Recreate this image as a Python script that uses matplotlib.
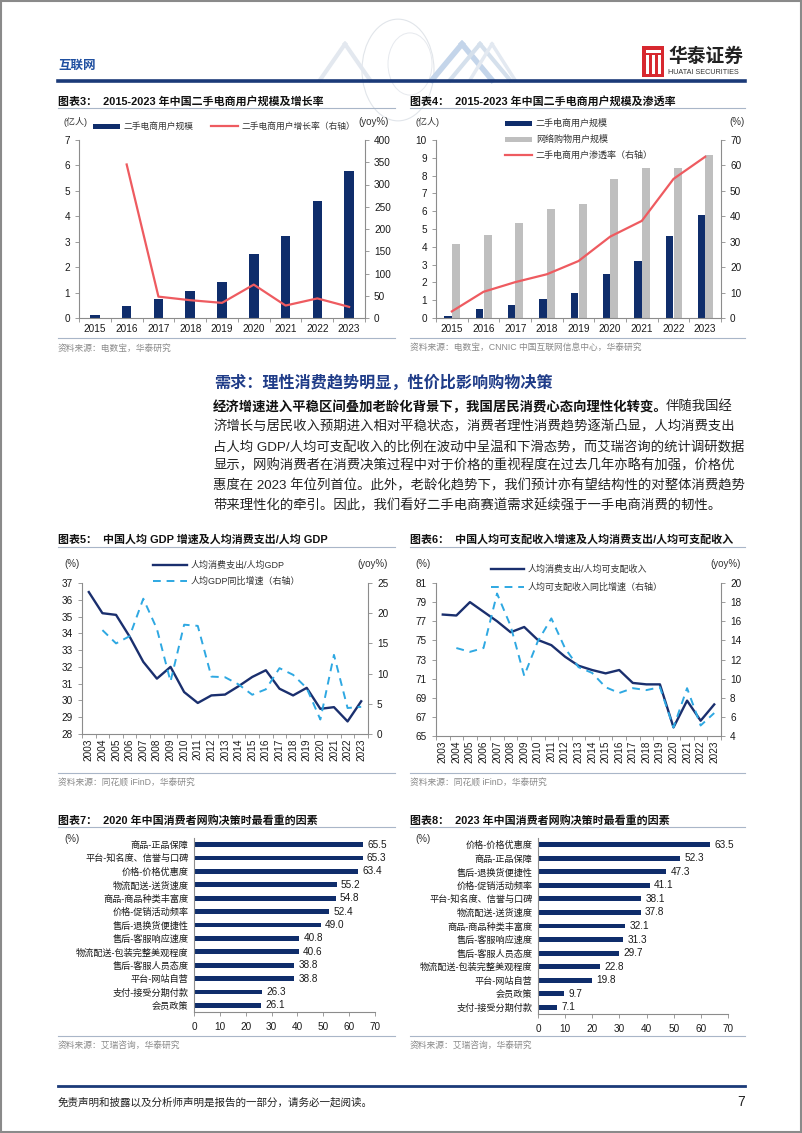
import matplotlib
matplotlib.use('Agg')
import matplotlib.pyplot as plt
from matplotlib.patches import Rectangle, Circle
from matplotlib.lines import Line2D
import numpy as np

plt.rcParams['font.family'] = ['Liberation Sans', 'Noto Sans CJK SC', 'DejaVu Sans']
plt.rcParams['axes.unicode_minus'] = False

# ---------------- data ----------------
years_a = ['2015', '2016', '2017', '2018', '2019', '2020', '2021', '2022', '2023']
users_2nd = [0.11, 0.48, 0.75, 1.05, 1.43, 2.50, 3.22, 4.62, 5.80]
growth_2nd = [np.nan, 345, 48, 40, 34, 75, 28, 44, 25]
online_users = [4.13, 4.67, 5.33, 6.10, 6.39, 7.82, 8.42, 8.45, 9.15]
penetration = [2.6, 10.3, 14.1, 17.2, 22.4, 32.0, 38.2, 54.7, 63.4]

years_b = ['2003', '2004', '2005', '2006', '2007', '2008', '2009', '2010', '2011', '2012',
           '2013', '2014', '2015', '2016', '2017', '2018', '2019', '2020', '2021', '2022', '2023']
cons_gdp = [36.46, 35.2, 35.1, 33.8, 32.3, 31.3, 32.0, 30.5, 29.85, 30.3, 30.35,
            30.85, 31.4, 31.8, 30.7, 30.3, 30.75, 29.5, 29.6, 28.75, 29.95]
gdp_growth = [np.nan, 17.2, 15.0, 16.2, 22.4, 17.4, 8.7, 18.1, 17.9, 9.5, 9.4,
              8.2, 6.5, 7.4, 10.9, 9.8, 7.6, 2.4, 13.1, 4.3, 4.5]
cons_inc = [77.7, 77.6, 79.0, 78.0, 77.0, 75.85, 76.4, 75.05, 74.5, 73.3, 72.35,
            71.9, 71.55, 71.9, 70.55, 70.4, 70.4, 65.9, 68.7, 66.6, 68.3]
inc_growth = [np.nan, 13.2, 12.8, 13.2, 18.9, 15.5, 10.3, 13.9, 16.3, 13.2, 11.2,
              10.6, 9.1, 8.5, 9.0, 8.8, 9.1, 4.9, 9.0, 5.1, 6.4]

factors_2020 = ['商品-正品保障', '平台-知名度、信誉与口碑', '价格-价格优惠度', '物流配送-送货速度',
                '商品-商品种类丰富度', '价格-促销活动频率', '售后-退换货便捷性', '售后-客服响应速度',
                '物流配送-包装完整美观程度', '售后-客服人员态度', '平台-网站自营', '支付-接受分期付款', '会员政策']
values_2020 = [65.5, 65.3, 63.4, 55.2, 54.8, 52.4, 49.0, 40.8, 40.6, 38.8, 38.8, 26.3, 26.1]
factors_2023 = ['价格-价格优惠度', '商品-正品保障', '售后-退换货便捷性', '价格-促销活动频率',
                '平台-知名度、信誉与口碑', '物流配送-送货速度', '商品-商品种类丰富度', '售后-客服响应速度',
                '售后-客服人员态度', '物流配送-包装完整美观程度', '平台-网站自营', '会员政策', '支付-接受分期付款']
values_2023 = [63.5, 52.3, 47.3, 41.1, 38.1, 37.8, 32.1, 31.3, 29.7, 22.8, 19.8, 9.7, 7.1]

# ---------------- styles ----------------
NAVY = '#0F2D6B'
RED = '#EE5B60'
GRAY_BAR = '#BFBFBF'
LINE_NAVY = '#1A2F6E'
DASH_BLUE = '#2EA8E2'
SEP = '#A9B6C8'
TXT = '#1a1a1a'
SRC = '#8a8a8a'
SPINE = '#8c8c8c'
TICK_FS = 7.2
LEG_FS = 6.5

W, H = 802, 1133
fig = plt.figure(figsize=(W / 100, H / 100), dpi=100)


def fx(x):
    return x / W


def fy(y):
    return 1 - y / H


def rect(x0, y0, x1, y1):
    return [x0 / W, 1 - y1 / H, (x1 - x0) / W, (y1 - y0) / H]


def ftext(x, y, s, **kw):
    kw.setdefault('va', 'center')
    return fig.text(fx(x), fy(y), s, **kw)


def fline(x0, x1, y0, y1=None, color='k', lw=1.0, ls='-'):
    if y1 is None:
        y1 = y0
    fig.add_artist(Line2D([fx(x0), fx(x1)], [fy(y0), fy(y1)], color=color, lw=lw, ls=ls,
                          transform=fig.transFigure))


def frect(x0, y0, x1, y1, color, **kw):
    fig.add_artist(Rectangle((fx(x0), fy(y1)), (x1 - x0) / W, (y1 - y0) / H,
                             transform=fig.transFigure, facecolor=color, edgecolor='none', **kw))


def chart_title(x, y, s, x_end, y_line):
    ftext(x, y, s, fontsize=7.9, fontweight='bold', color='#111')
    fline(x, x_end, y_line, color=SEP, lw=0.8)


def source(x, x_end, y_line, y_text, s):
    fline(x, x_end, y_line, color=SEP, lw=0.8)
    ftext(x, y_text, s, fontsize=6.3, color=SRC)


def style_axes(ax, left=True, right=False, bottom=True):
    ax.spines['top'].set_visible(False)
    ax.spines['left'].set_visible(left)
    ax.spines['right'].set_visible(right)
    ax.spines['bottom'].set_visible(bottom)
    for s in ax.spines.values():
        s.set_color(SPINE)
        s.set_linewidth(0.8)
    ax.tick_params(labelsize=TICK_FS, colors=TXT, length=3, width=0.6, direction='out')
    ax.tick_params(axis='both', color=SPINE)
    ax.set_facecolor('none')


def cat_xaxis(ax, labels, rotation=0, pad=3):
    n = len(labels)
    ax.set_xlim(-0.5, n - 0.5)
    ax.set_xticks(range(n))
    ax.set_xticklabels(labels, rotation=rotation)
    ax.tick_params(axis='x', length=0, pad=pad)
    ax.set_xticks(np.arange(-0.5, n, 1.0), minor=True)
    ax.tick_params(axis='x', which='minor', length=3, width=0.6, color=SPINE)


# ---------------- page frame & header ----------------
fig.add_artist(Rectangle((0.001, 0.001), 0.998, 0.998, transform=fig.transFigure, fill=False,
                         edgecolor='#8a8a8a', lw=1.5))

# header decoration (faint globe and chevrons)
fig.add_artist(Circle((fx(398), fy(70)), 36 / W, transform=fig.transFigure, fill=False,
                      edgecolor='#e1e5ea', lw=0.8))
fig.add_artist(Circle((fx(410), fy(64)), 22 / W, transform=fig.transFigure, fill=False,
                      edgecolor='#e6e9ee', lw=0.7))
for (xa, xb, xc, col, lw) in [(432, 462, 492, '#c4d5ea', 4), (450, 480, 510, '#d5e0ec', 3),
                              (320, 345, 370, '#e3e8ef', 3), (470, 492, 515, '#e3e9f1', 2.5)]:
    fline(xa, xb, 80, 44, color=col, lw=lw)
    fline(xb, xc, 44, 80, color=col, lw=lw)

ftext(58, 66, '互联网', fontsize=9, fontweight='bold', color='#1F4FA0')
# logo
frect(642, 46, 664, 77, '#D7282F')
for xx in [646, 652, 658]:
    frect(xx, 55, xx + 2.5, 74, 'white')
frect(646, 50, 660.5, 53, 'white')
ftext(668, 57, '华泰证券', fontsize=13.5, fontweight='bold', color='#222')
ftext(668, 72, 'HUATAI SECURITIES', fontsize=5.2, color='#333')
fline(58, 745, 81, color='#1B3A78', lw=2.6)

# ---------------- Chart 3 ----------------
chart_title(58, 101, '图表3：  2015-2023 年中国二手电商用户规模及增长率', 395, 108)
ax3 = fig.add_axes(rect(79, 140, 365, 318))
x9 = np.arange(len(years_a))
ax3.bar(x9, users_2nd, width=0.3, color=NAVY, zorder=2)
ax3.set_ylim(0, 7)
ax3.set_yticks(range(0, 8))
style_axes(ax3)
cat_xaxis(ax3, years_a, pad=4)
ax3b = ax3.twinx()
ax3b.plot(x9, growth_2nd, color=RED, lw=1.6, zorder=3)
ax3b.set_ylim(0, 400)
ax3b.set_yticks(range(0, 401, 50))
style_axes(ax3b, left=False, right=True, bottom=False)
ftext(63, 122, '(亿人)', fontsize=LEG_FS, color='#333')
ftext(358, 122, '(yoy%)', fontsize=7.0, color='#333')
frect(93, 123.5, 120, 128.5, NAVY)
ftext(123, 126, '二手电商用户规模', fontsize=6.3, color='#333')
fline(211, 238, 126, color=RED, lw=1.6)
ftext(241, 126, '二手电商用户增长率（右轴）', fontsize=6.3, color='#333')
source(58, 395, 338, 348, '资料来源：电数宝，华泰研究')

# ---------------- Chart 4 ----------------
chart_title(410, 101, '图表4：  2015-2023 年中国二手电商用户规模及渗透率', 745, 108)
ax4 = fig.add_axes(rect(436, 140, 721, 318))
ax4.bar(x9 - 0.125, users_2nd, width=0.23, color=NAVY, zorder=2)
ax4.bar(x9 + 0.13, online_users, width=0.25, color=GRAY_BAR, zorder=2)
ax4.set_ylim(0, 10)
ax4.set_yticks(range(0, 11))
style_axes(ax4)
cat_xaxis(ax4, years_a, pad=4)
ax4b = ax4.twinx()
ax4b.plot(x9, penetration, color=RED, lw=1.6, zorder=3)
ax4b.set_ylim(0, 70)
ax4b.set_yticks(range(0, 71, 10))
style_axes(ax4b, left=False, right=True, bottom=False)
ftext(415, 122, '(亿人)', fontsize=LEG_FS, color='#333')
ftext(729, 122, '(%)', fontsize=7.0, color='#333')
frect(505, 120.5, 532, 125.5, NAVY)
ftext(536, 123, '二手电商用户规模', fontsize=LEG_FS, color='#333')
frect(505, 136.5, 532, 141.5, GRAY_BAR)
ftext(536, 139, '网络购物用户规模', fontsize=LEG_FS, color='#333')
fline(505, 532, 155, color=RED, lw=1.6)
ftext(536, 155, '二手电商用户渗透率（右轴）', fontsize=LEG_FS, color='#333')
source(410, 745, 338, 348, '资料来源：电数宝，CNNIC 中国互联网信息中心，华泰研究')

# ---------------- Heading and paragraph ----------------
ftext(214, 383, '需求：理性消费趋势明显，性价比影响购物决策', fontsize=11.6, fontweight='bold',
      color='#1F3C88')
PFS = 9.6
bold_part = '经济增速进入平稳区间叠加老龄化背景下，我国居民消费心态向理性化转变。'
t1 = ftext(213, 407, bold_part, fontsize=PFS, fontweight='bold', color='#111')
renderer = fig.canvas.get_renderer()
bb = t1.get_window_extent(renderer=renderer)
ftext(bb.x1 - 2, 407, '伴随我国经', fontsize=PFS, color='#222')
para_lines = [
    '济增长与居民收入预期进入相对平稳状态，消费者理性消费趋势逐渐凸显，人均消费支出',
    '占人均 GDP/人均可支配收入的比例在波动中呈温和下滑态势，而艾瑞咨询的统计调研数据',
    '显示，网购消费者在消费决策过程中对于价格的重视程度在过去几年亦略有加强，价格优',
    '惠度在 2023 年位列首位。此外，老龄化趋势下，我们预计亦有望结构性的对整体消费趋势',
    '带来理性化的牵引。因此，我们看好二手电商赛道需求延续强于一手电商消费的韧性。',
]
for i, ln in enumerate(para_lines):
    ftext(213, 427 + i * 19.6, ln, fontsize=PFS, color='#222')

# ---------------- Chart 5 ----------------
chart_title(58, 540, '图表5：  中国人均 GDP 增速及人均消费支出/人均 GDP', 395, 547)
ax5 = fig.add_axes(rect(82, 583, 368, 734))
x21 = np.arange(len(years_b))
ax5.plot(x21, cons_gdp, color=LINE_NAVY, lw=1.7, zorder=3)
ax5.set_ylim(28, 37)
ax5.set_yticks(range(28, 38))
style_axes(ax5)
cat_xaxis(ax5, years_b, rotation=90, pad=3)
ax5b = ax5.twinx()
ax5b.plot(x21, gdp_growth, color=DASH_BLUE, lw=1.4, ls=(0, (4, 3)), zorder=2)
ax5b.set_ylim(0, 25)
ax5b.set_yticks(range(0, 26, 5))
style_axes(ax5b, left=False, right=True, bottom=False)
ftext(64, 564, '(%)', fontsize=7.0, color='#333')
ftext(357, 564, '(yoy%)', fontsize=7.0, color='#333')
fline(153, 187, 565, color=LINE_NAVY, lw=1.7)
ftext(191, 565, '人均消费支出/人均GDP', fontsize=LEG_FS, color='#333')
fline(153, 187, 581, color=DASH_BLUE, lw=1.4, ls=(0, (4, 3)))
ftext(191, 581, '人均GDP同比增速（右轴）', fontsize=LEG_FS, color='#333')
source(58, 395, 773, 783, '资料来源：同花顺 iFinD，华泰研究')

# ---------------- Chart 6 ----------------
chart_title(410, 540, '图表6：  中国人均可支配收入增速及人均消费支出/人均可支配收入', 745, 547)
ax6 = fig.add_axes(rect(436, 583, 721, 736))
ax6.plot(x21, cons_inc, color=LINE_NAVY, lw=1.7, zorder=3)
ax6.set_ylim(65, 81)
ax6.set_yticks(range(65, 82, 2))
style_axes(ax6)
cat_xaxis(ax6, years_b, rotation=90, pad=3)
ax6b = ax6.twinx()
ax6b.plot(x21, inc_growth, color=DASH_BLUE, lw=1.4, ls=(0, (4, 3)), zorder=2)
ax6b.set_ylim(4, 20)
ax6b.set_yticks(range(4, 21, 2))
style_axes(ax6b, left=False, right=True, bottom=False)
ftext(415, 564, '(%)', fontsize=7.0, color='#333')
ftext(710, 564, '(yoy%)', fontsize=7.0, color='#333')
fline(491, 524, 569, color=LINE_NAVY, lw=1.7)
ftext(528, 569, '人均消费支出/人均可支配收入', fontsize=LEG_FS, color='#333')
fline(491, 524, 587, color=DASH_BLUE, lw=1.4, ls=(0, (4, 3)))
ftext(528, 587, '人均可支配收入同比增速（右轴）', fontsize=LEG_FS, color='#333')
source(410, 745, 773, 783, '资料来源：同花顺 iFinD，华泰研究')


# ---------------- Charts 7 & 8 ----------------
def hbar_chart(box, cats, vals):
    ax = fig.add_axes(box)
    y = np.arange(len(cats))
    ax.barh(y, vals, height=0.36, color=NAVY, zorder=2)
    ax.set_ylim(len(cats) - 0.5, -0.5)
    ax.set_yticks(y)
    ax.set_yticklabels(cats)
    ax.set_xlim(0, 70)
    ax.set_xticks(range(0, 71, 10))
    style_axes(ax)
    ax.tick_params(axis='y', length=0, pad=4, labelsize=6.6)
    ax.tick_params(axis='x', pad=4)
    for yi, v in zip(y, vals):
        ax.text(v + 1.6, yi, f'{v:.1f}', va='center', ha='left', fontsize=7.2, color=TXT)
    return ax


chart_title(58, 820, '图表7：  2020 年中国消费者网购决策时最看重的因素', 395, 827)
hbar_chart(rect(194, 838, 375, 1012), factors_2020, values_2020)
ftext(64, 839, '(%)', fontsize=7.0, color='#333')
source(58, 395, 1036, 1045, '资料来源：艾瑞咨询，华泰研究')

chart_title(410, 820, '图表8：  2023 年中国消费者网购决策时最看重的因素', 745, 827)
hbar_chart(rect(538, 838, 728, 1014), factors_2023, values_2023)
ftext(415, 839, '(%)', fontsize=7.0, color='#333')
source(410, 745, 1036, 1045, '资料来源：艾瑞咨询，华泰研究')

# ---------------- footer ----------------
fline(58, 745, 1086, color='#1B3A78', lw=2.0)
ftext(58, 1102, '免责声明和披露以及分析师声明是报告的一部分，请务必一起阅读。', fontsize=7.6, color='#222')
ftext(745, 1102, '7', fontsize=10, color='#222', ha='right')

fig.savefig('out.png', dpi=100)
